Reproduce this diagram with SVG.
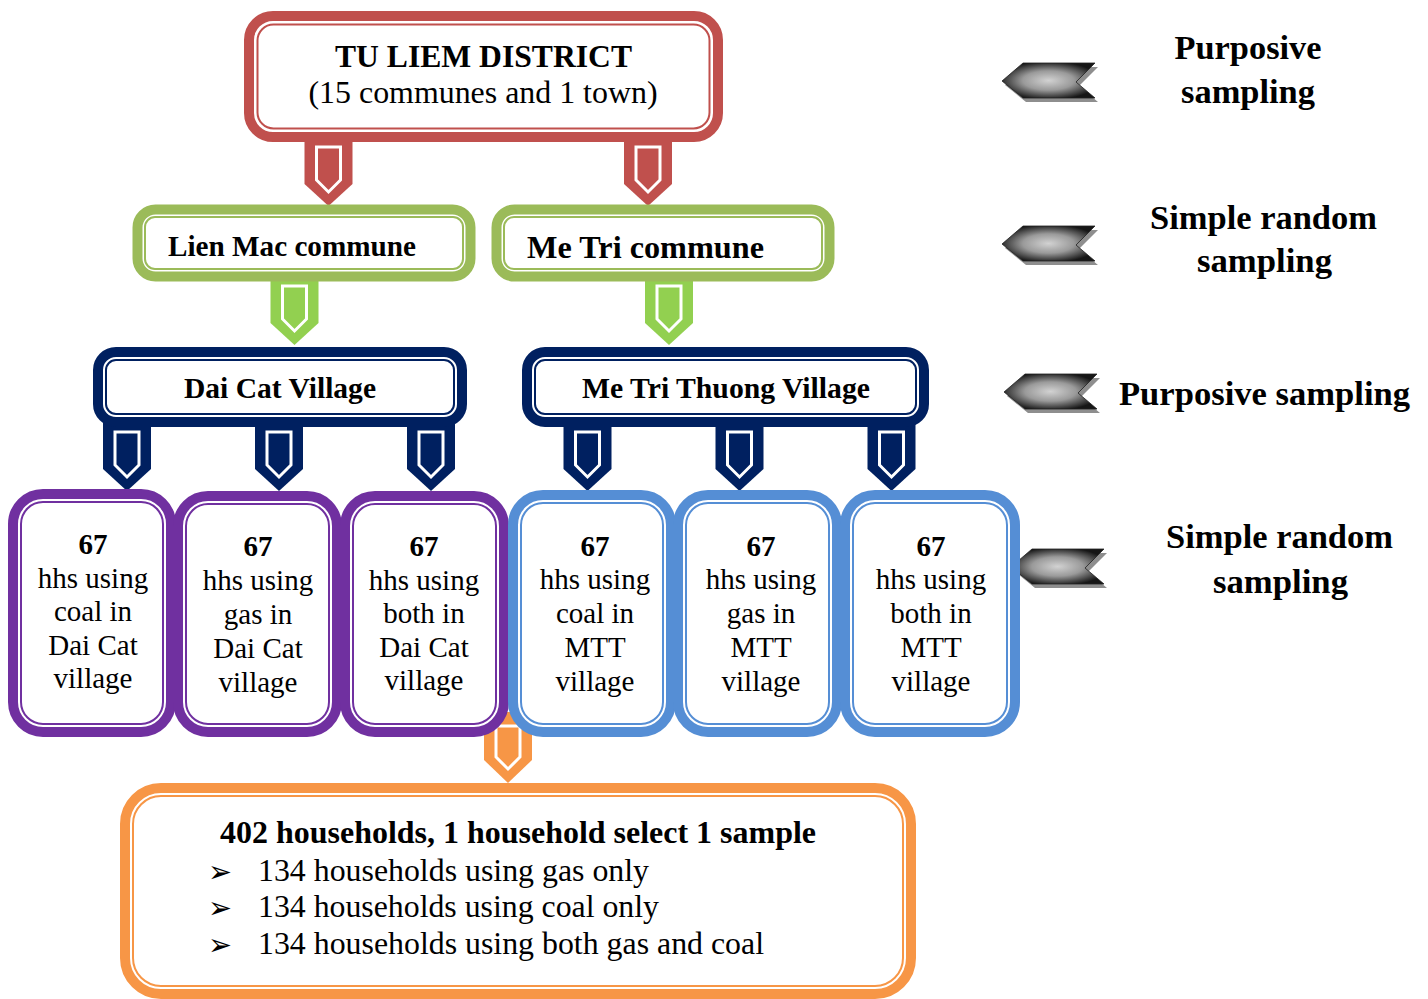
<svg xmlns="http://www.w3.org/2000/svg" xmlns:xlink="http://www.w3.org/1999/xlink" width="1428" height="999" viewBox="0 0 1428 999">
<defs>
<style>
.t{font-family:'Liberation Serif','Times New Roman',serif;fill:#000;}
.b{font-weight:bold;}
.mid{text-anchor:middle;}
.o{fill:#fff;stroke-width:10;}
.i{fill:none;stroke-width:2;}
.red{stroke:#C0504D;}
.grn{stroke:#9BBB59;}
.nav{stroke:#002060;}
.pur{stroke:#7030A0;}
.blu{stroke:#558ED5;}
.org{stroke:#F79646;}
.bt{font-size:29px;}
.side{font-size:33px;font-weight:bold;}
.bul{font-family:'DejaVu Sans',sans-serif;font-size:30px;fill:#000;}
</style>
<radialGradient id="gg" cx="0.5" cy="0.5" r="0.55">
<stop offset="0" stop-color="#d2d2d2"/>
<stop offset="0.5" stop-color="#9a9a9a"/>
<stop offset="1" stop-color="#161616"/>
</radialGradient>
<g id="tab">
<polygon points="-24,-10 24,-10 24,42 0,64 -24,42"/>
<polygon points="-12,5 12,5 12,38 0,50 -12,38" fill="none" stroke="#fff" stroke-width="3"/>
</g>
<g id="arr">
<path d="M3,4 L24,-14 L96,-14 L77,5 L96,21 L24,21 Z" fill="#8e8e8e"/>
<path d="M0,0 L21,-18 L93,-18 L74,1 L93,17 L21,17 Z" fill="url(#gg)" stroke="#222" stroke-width="0.8"/>
</g>
</defs>
<rect width="1428" height="999" fill="#fff"/>

<g id="sampling-labels">
<use xlink:href="#arr" x="1002" y="81"/>
<use xlink:href="#arr" x="1002" y="244"/>
<use xlink:href="#arr" x="1004" y="392"/>
<use xlink:href="#arr" x="1011" y="567"/>
<text class="t side mid" x="1248" y="59" textLength="147" lengthAdjust="spacingAndGlyphs">Purposive</text>
<text class="t side mid" x="1248" y="103" textLength="134" lengthAdjust="spacingAndGlyphs">sampling</text>
<text class="t side mid" x="1263.5" y="229" textLength="227" lengthAdjust="spacingAndGlyphs">Simple random</text>
<text class="t side mid" x="1264.5" y="272" textLength="135" lengthAdjust="spacingAndGlyphs">sampling</text>
<text class="t side mid" x="1264.5" y="405" textLength="291" lengthAdjust="spacingAndGlyphs">Purposive sampling</text>
<text class="t side mid" x="1279.5" y="548" textLength="227" lengthAdjust="spacingAndGlyphs">Simple random</text>
<text class="t side mid" x="1280.5" y="593" textLength="135" lengthAdjust="spacingAndGlyphs">sampling</text>
</g>

<g id="connectors">
<use xlink:href="#tab" x="328.5" y="142" fill="#C0504D"/>
<use xlink:href="#tab" x="648" y="142" fill="#C0504D"/>
<use xlink:href="#tab" x="294.5" y="281" fill="#92D050"/>
<use xlink:href="#tab" x="669" y="281" fill="#92D050"/>
<use xlink:href="#tab" x="127" y="427" fill="#002060"/>
<use xlink:href="#tab" x="279" y="427" fill="#002060"/>
<use xlink:href="#tab" x="431" y="427" fill="#002060"/>
<use xlink:href="#tab" x="587.5" y="427" fill="#002060"/>
<use xlink:href="#tab" x="739.5" y="427" fill="#002060"/>
<use xlink:href="#tab" x="891.5" y="427" fill="#002060"/>
<polygon points="484,712 532,712 532,760 508,783 484,760" fill="#F79646"/>
<polygon points="496,726 520,726 520,757 508,769 496,757" fill="none" stroke="#fff" stroke-width="3"/>
</g>

<g id="tu-liem">
<rect class="o red" x="249" y="16" width="469" height="121" rx="24"/>
<rect class="i red" x="257.5" y="24.5" width="452" height="104" rx="16"/>
<text class="t b mid" x="483.5" y="67" font-size="32" textLength="297" lengthAdjust="spacingAndGlyphs">TU LIEM DISTRICT</text>
<text class="t mid" x="483" y="103" font-size="32" textLength="349" lengthAdjust="spacingAndGlyphs">(15 communes and 1 town)</text>
</g>

<g id="lien-mac">
<rect class="o grn" x="137.5" y="209.5" width="333" height="67" rx="18" stroke-width="9"/>
<rect class="i grn" x="145" y="217" width="318" height="52" rx="10"/>
<text class="t b" x="168" y="256" font-size="30" textLength="248" lengthAdjust="spacingAndGlyphs">Lien Mac commune</text>
</g>

<g id="me-tri">
<rect class="o grn" x="496.5" y="209.5" width="333" height="67" rx="18" stroke-width="9"/>
<rect class="i grn" x="504" y="217" width="318" height="52" rx="10"/>
<text class="t b" x="527" y="258" font-size="31" textLength="237" lengthAdjust="spacingAndGlyphs">Me Tri commune</text>
</g>

<g id="dai-cat">
<rect class="o nav" x="98" y="352" width="364" height="70" rx="18"/>
<rect class="i nav" x="106" y="360" width="348" height="54" rx="10"/>
<text class="t b mid" x="280" y="398" font-size="29" textLength="192" lengthAdjust="spacingAndGlyphs">Dai Cat Village</text>
</g>

<g id="me-tri-thuong">
<rect class="o nav" x="527" y="352" width="397" height="70" rx="18"/>
<rect class="i nav" x="535" y="360" width="381" height="54" rx="10"/>
<text class="t b mid" x="726" y="398" font-size="29" textLength="288" lengthAdjust="spacingAndGlyphs">Me Tri Thuong Village</text>
</g>

<g id="dc-coal">
<rect class="o pur" x="13" y="494" width="158" height="238" rx="30"/>
<rect class="i pur" x="21" y="502" width="142" height="222" rx="22"/>
<text class="t bt mid" x="93"><tspan class="b" x="93" y="554">67</tspan><tspan x="93" y="588">hhs using</tspan><tspan x="93" y="621">coal in</tspan><tspan x="93" y="655">Dai Cat</tspan><tspan x="93" y="688">village</tspan></text>
</g>

<g id="dc-gas">
<rect class="o pur" x="178" y="496" width="159" height="236" rx="30"/>
<rect class="i pur" x="186" y="504" width="143" height="220" rx="22"/>
<text class="t bt mid" x="258"><tspan class="b" x="258" y="556">67</tspan><tspan x="258" y="590">hhs using</tspan><tspan x="258" y="624">gas in</tspan><tspan x="258" y="658">Dai Cat</tspan><tspan x="258" y="692">village</tspan></text>
</g>

<g id="dc-both">
<rect class="o pur" x="345" y="496" width="159" height="236" rx="30"/>
<rect class="i pur" x="353" y="504" width="143" height="220" rx="22"/>
<text class="t bt mid" x="424"><tspan class="b" x="424" y="556">67</tspan><tspan x="424" y="590">hhs using</tspan><tspan x="424" y="623">both in</tspan><tspan x="424" y="657">Dai Cat</tspan><tspan x="424" y="690">village</tspan></text>
</g>

<g id="mtt-coal">
<rect class="o blu" x="513" y="495" width="158" height="237" rx="30"/>
<rect class="i blu" x="521" y="503" width="142" height="221" rx="22"/>
<text class="t bt mid" x="595"><tspan class="b" x="595" y="556">67</tspan><tspan x="595" y="589">hhs using</tspan><tspan x="595" y="623">coal in</tspan><tspan x="595" y="657">MTT</tspan><tspan x="595" y="691">village</tspan></text>
</g>

<g id="mtt-gas">
<rect class="o blu" x="678" y="495" width="159" height="237" rx="30"/>
<rect class="i blu" x="686" y="503" width="143" height="221" rx="22"/>
<text class="t bt mid" x="761"><tspan class="b" x="761" y="556">67</tspan><tspan x="761" y="589">hhs using</tspan><tspan x="761" y="623">gas in</tspan><tspan x="761" y="657">MTT</tspan><tspan x="761" y="691">village</tspan></text>
</g>

<g id="mtt-both">
<rect class="o blu" x="845" y="495" width="170" height="237" rx="30"/>
<rect class="i blu" x="853" y="503" width="154" height="221" rx="22"/>
<text class="t bt mid" x="931"><tspan class="b" x="931" y="556">67</tspan><tspan x="931" y="589">hhs using</tspan><tspan x="931" y="623">both in</tspan><tspan x="931" y="657">MTT</tspan><tspan x="931" y="691">village</tspan></text>
</g>

<g id="households">
<rect class="o org" x="125" y="788" width="786" height="206" rx="36"/>
<rect class="i org" x="133" y="796" width="770" height="190" rx="28"/>
<text class="t b" x="220" y="843" font-size="32" textLength="596" lengthAdjust="spacingAndGlyphs">402 households, 1 household select 1 sample</text>
<text class="bul" x="208" y="882" textLength="24" lengthAdjust="spacingAndGlyphs">➢</text>
<text class="bul" x="208" y="918" textLength="24" lengthAdjust="spacingAndGlyphs">➢</text>
<text class="bul" x="208" y="955" textLength="24" lengthAdjust="spacingAndGlyphs">➢</text>
<text class="t" x="258" y="881" font-size="32" textLength="391" lengthAdjust="spacingAndGlyphs">134 households using gas only</text>
<text class="t" x="258" y="917" font-size="32" textLength="401" lengthAdjust="spacingAndGlyphs">134 households using coal only</text>
<text class="t" x="258" y="954" font-size="32" textLength="506" lengthAdjust="spacingAndGlyphs">134 households using both gas and coal</text>
</g>
</svg>
